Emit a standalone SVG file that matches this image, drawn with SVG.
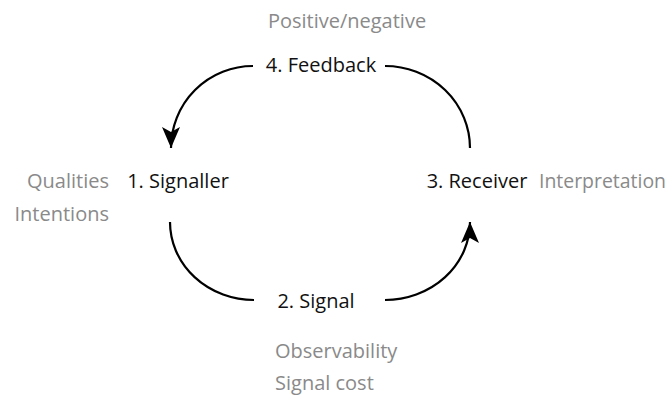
<svg xmlns="http://www.w3.org/2000/svg" width="669" height="396" viewBox="0 0 669 396">
  <style>
    .lbl { font-family: "Open Sans", "Noto Sans", sans-serif; font-size: 20px; fill: #111; }
    .sub { font-family: "Open Sans", "Noto Sans", sans-serif; font-size: 20px; fill: #8a8a8a; }
    .arc { fill: none; stroke: #000; stroke-width: 2.2; }
  </style>
  <defs>
    <marker id="ah" markerUnits="userSpaceOnUse" markerWidth="24" markerHeight="24" viewBox="-22 -11 24 22" refX="0" refY="0" orient="auto">
      <path d="M0,0 L-21,-9 L-16,0 L-21,9 Z" fill="#000"/>
    </marker>
  </defs>
  <rect width="669" height="396" fill="#fff"/>
  <g id="connectors">
    <path class="arc" d="M253,66 A82,82 0 0 0 171,148" marker-end="url(#ah)"/>
    <path class="arc" d="M385,66 A85,82 0 0 1 470,148"/>
    <path class="arc" d="M170,222 A84,78 0 0 0 254,300"/>
    <path class="arc" d="M385,300 A85,78 0 0 0 470,222" marker-end="url(#ah)"/>
  </g>
  <g id="feedback">
    <text class="sub" x="347" y="28" text-anchor="middle">Positive/negative</text>
    <text class="lbl" x="321" y="72" text-anchor="middle">4. Feedback</text>
  </g>
  <g id="signaller">
    <text class="sub" x="109" y="188" text-anchor="end">Qualities</text>
    <text class="sub" x="109" y="221" text-anchor="end">Intentions</text>
    <text class="lbl" x="178" y="188" text-anchor="middle">1. Signaller</text>
  </g>
  <g id="receiver">
    <text class="lbl" x="477" y="188" text-anchor="middle">3. Receiver</text>
    <text class="sub" x="539" y="188" textLength="127" lengthAdjust="spacingAndGlyphs">Interpretation</text>
  </g>
  <g id="signal">
    <text class="lbl" x="316" y="308" text-anchor="middle">2. Signal</text>
    <text class="sub" x="275" y="358">Observability</text>
    <text class="sub" x="275" y="390">Signal cost</text>
  </g>
</svg>
